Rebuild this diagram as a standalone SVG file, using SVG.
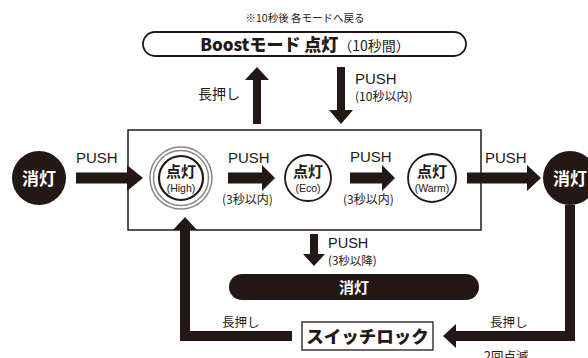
<svg xmlns="http://www.w3.org/2000/svg" width="588" height="358" viewBox="0 0 588 358">
<style>
.k{fill:#231815}
.t{font-family:"Liberation Sans","Noto Sans CJK JP",sans-serif;fill:#231815}
.j{font-family:"Noto Sans CJK JP",sans-serif;fill:#231815}
.b{font-weight:bold}
.ln{fill:none;stroke:#231815}
.g{stroke:#8a8583}
</style>
<rect width="588" height="358" fill="#fff"/>
<text class="j" x="305" y="22" font-size="10.5" text-anchor="middle">※10秒後 各モードへ戻る</text>
<g id="boost">
<rect class="ln" x="143" y="32" width="323" height="24" rx="12" stroke-width="1.8"/>
<text class="j" x="305" y="50.5" text-anchor="middle"><tspan font-size="17" font-weight="900">Boostモード 点灯</tspan><tspan font-size="14">（10秒間）</tspan></text>
</g>
<g id="modebox">
<rect class="ln" x="128" y="130" width="353" height="100" stroke-width="1.5"/>
</g>
<g id="off-left">
<circle class="k" cx="39" cy="178" r="27"/>
<text class="j b" x="39" y="184.5" font-size="17" text-anchor="middle" style="fill:#fff">消灯</text>
</g>
<g id="high">
<circle class="ln g" cx="181" cy="178" r="31" stroke-width="1.5" style="stroke:#8a8583"/>
<circle class="ln g" cx="181" cy="178" r="27.5" stroke-width="1.5" style="stroke:#8a8583"/>
<circle class="ln" cx="181" cy="178" r="22" stroke-width="2.2"/>
<text class="j b" x="181" y="177" font-size="15" text-anchor="middle">点灯</text>
<text class="t" x="181" y="192" font-size="10.5" text-anchor="middle">(High)</text>
</g>
<g id="eco">
<circle class="ln" cx="308" cy="178" r="23" stroke-width="1.8"/>
<text class="j b" x="308" y="177" font-size="15" text-anchor="middle">点灯</text>
<text class="t" x="308" y="192" font-size="10.5" text-anchor="middle">(Eco)</text>
</g>
<g id="warm">
<circle class="ln" cx="432" cy="178" r="24" stroke-width="1.8"/>
<text class="j b" x="432" y="177" font-size="15" text-anchor="middle">点灯</text>
<text class="t" x="432" y="192" font-size="10.5" text-anchor="middle">(Warm)</text>
</g>
<g id="off-right">
<circle class="k" cx="570" cy="178" r="27"/>
<text class="j b" x="570" y="184.5" font-size="17" text-anchor="middle" style="fill:#fff">消灯</text>
</g>
<g id="off-bar">
<rect class="k" x="229" y="274" width="250" height="26" rx="13"/>
<text class="j b" x="354" y="293" font-size="15" text-anchor="middle" style="fill:#fff">消灯</text>
</g>
<g id="lock">
<rect class="ln" x="302" y="322" width="131" height="28" stroke-width="1.3"/>
<text class="j" x="367.5" y="343" font-size="17.5" font-weight="900" text-anchor="middle">スイッチロック</text>
</g>
<g id="connectors" class="k">
<polygon points="253,124 253,80 245,80 257,67 269,80 261,80 261,124"/>
<polygon points="337,67 345,67 345,110 353,110 341,124 329,110 337,110"/>
<polygon points="76,172.5 127,172.5 127,165 143,178 127,191 127,183.5 76,183.5"/>
<polygon points="228,172.5 262,172.5 262,165 275,178 262,191 262,183.5 228,183.5"/>
<polygon points="350,172.5 382,172.5 382,165 395,178 382,191 382,183.5 350,183.5"/>
<polygon points="467,172.5 527,172.5 527,165 541,178 527,191 527,183.5 467,183.5"/>
<polygon points="310,234 318,234 318,254 325,254 314,266 303,254 310,254"/>
<polygon points="565,205 575,205 575,341 456,341 456,348 443,336 456,324 456,331 565,331"/>
<polygon points="292,331 292,341 180,341 180,230 173,230 185,217 197,230 190,230 190,331"/>
</g>
<g id="labels">
<text class="j" x="198" y="99" font-size="14">長押し</text>
<text class="t" x="355" y="84" font-size="15">PUSH</text>
<text class="j" x="355" y="101" font-size="12">(10秒以内)</text>
<text class="t" x="76" y="163" font-size="15">PUSH</text>
<text class="t" x="228" y="163" font-size="15">PUSH</text>
<text class="j" x="222" y="204" font-size="12">(3秒以内)</text>
<text class="t" x="350" y="162" font-size="15">PUSH</text>
<text class="j" x="343" y="204" font-size="12">(3秒以内)</text>
<text class="t" x="485" y="163" font-size="15">PUSH</text>
<text class="t" x="328" y="248" font-size="14.5">PUSH</text>
<text class="j" x="328" y="265" font-size="11.5">(3秒以降)</text>
<text class="j" x="222" y="327" font-size="12.5">長押し</text>
<text class="j" x="490" y="327" font-size="12.5">長押し</text>
<text class="j" x="484" y="361" font-size="12.5">2回点滅</text>
</g>
</svg>
